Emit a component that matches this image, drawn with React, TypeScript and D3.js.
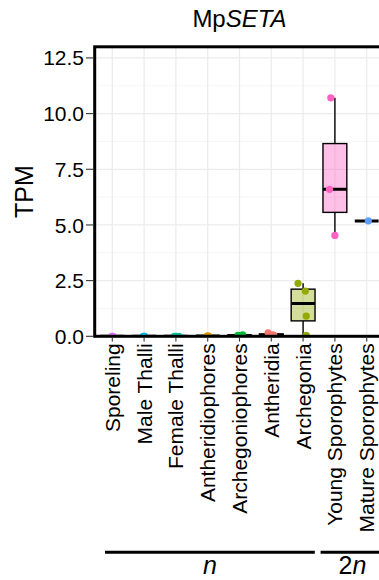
import React from 'react';
import * as d3 from 'd3';

// stages, in plot order
const categories = [
  'Sporeling',
  'Male Thalli',
  'Female Thalli',
  'Antheridiophores',
  'Archegoniophores',
  'Antheridia',
  'Archegonia',
  'Young Sporophytes',
  'Mature Sporophytes',
];
const stageColors = ['#DB72FB', '#00B9E3', '#00C19F', '#D39200', '#00BA38', '#F8766D', '#93AA00', '#FF61C3', '#619CFF'];

// replicate TPM values
const tpm = [
  [0, 0, 0],
  [0, 0, 0],
  [0, 0, 0],
  [0.01, 0.01, 0.01],
  [0.06, 0.04, 0.03],
  [0.15, 0.06, 0.04],
  [2.38, 2.03, 0.91, 0.04],
  [10.71, 6.6, 4.53],
  [5.18],
];
// horizontal jitter of each replicate (in category steps)
const jitter = [
  [0, 0.02, -0.02],
  [-0.03, 0.02, 0],
  [-0.05, 0.1, 0.02],
  [0.03, 0, -0.02],
  [0.1, -0.05, 0],
  [-0.1, 0.05, 0.08],
  [-0.16, 0.07, 0.1, 0.1],
  [-0.13, -0.17, 0],
  [0.05],
];
const yTicks = [0, 2.5, 5, 7.5, 10, 12.5];
const ploidyLabels = ['n', '2n'];
const ploidyFrom = ['Sporeling', 'Young Sporophytes'];
const ploidyTo = ['Archegonia', 'Mature Sporophytes'];

const W = 379;
const H = 580;
const font = '"Liberation Sans", Arial, Helvetica, sans-serif';

export default function App() {
  const panel = { left: 94.7, top: 46.8, right: 384.3, bottom: 336.3 };

  const x = d3.scalePoint<string>().domain(categories).range([112.3, 366.7]);
  const step = x.step();
  const y = d3.scaleLinear().domain([0, 13]).range([panel.bottom, panel.top]);
  const minor = d3.range(1.25, 13, 2.5);
  const boxW = step * 0.75;

  const stats = tpm.map((vals) => {
    const s = vals.slice().sort(d3.ascending);
    const q1 = d3.quantile(s, 0.25) as number;
    const med = d3.quantile(s, 0.5) as number;
    const q3 = d3.quantile(s, 0.75) as number;
    const iqr = q3 - q1;
    const lo = d3.min(s.filter((v) => v >= q1 - 1.5 * iqr)) as number;
    const hi = d3.max(s.filter((v) => v <= q3 + 1.5 * iqr)) as number;
    return { q1, med, q3, lo, hi };
  });

  // extents of the ploidy bars under the labels
  const groupStart = [x(ploidyFrom[0])! - 7.3, x(ploidyFrom[1])! - 14.3];
  const groupEnd = [x(ploidyTo[0])! + 11.7, panel.right];

  return (
    <svg width={W} height={H} style={{ position: 'absolute', left: 0, top: 0, background: '#fff' }} fontFamily={font}>
      <defs>
        <clipPath id="panel-clip">
          <rect x={panel.left} y={panel.top} width={panel.right - panel.left} height={panel.bottom - panel.top} />
        </clipPath>
      </defs>

      <text x={(panel.left + panel.right) / 2} y={27} textAnchor="middle" fontSize={24} fill="#000">
        Mp<tspan fontStyle="italic">SETA</tspan>
      </text>

      <g clipPath="url(#panel-clip)">
        <rect x={panel.left} y={panel.top} width={panel.right - panel.left} height={panel.bottom - panel.top} fill="#fff" />
        {minor.map((t) => (
          <line key={'mi' + t} x1={panel.left} x2={panel.right} y1={y(t)} y2={y(t)} stroke="#efefef" strokeWidth={0.6} />
        ))}
        {yTicks.map((t) => (
          <line key={'ma' + t} x1={panel.left} x2={panel.right} y1={y(t)} y2={y(t)} stroke="#ebebeb" strokeWidth={1.2} />
        ))}
        {categories.map((c) => (
          <line key={'gx' + c} x1={x(c)} x2={x(c)} y1={panel.top} y2={panel.bottom} stroke="#ebebeb" strokeWidth={1.2} />
        ))}

        {stats.map((s, i) => {
          const cx = x(categories[i])!;
          const fill = d3.color(stageColors[i])!.copy({ opacity: 0.4 }).formatRgb();
          return (
            <g key={'box' + i}>
              <line x1={cx} x2={cx} y1={y(s.q3)} y2={y(s.hi)} stroke="#000" strokeWidth={1.4} />
              <line x1={cx} x2={cx} y1={y(s.q1)} y2={y(s.lo)} stroke="#000" strokeWidth={1.4} />
              <rect
                x={cx - boxW / 2}
                y={y(s.q3)}
                width={boxW}
                height={Math.max(0, y(s.q1) - y(s.q3))}
                fill={fill}
                stroke="#000"
                strokeWidth={1.4}
              />
              <line x1={cx - boxW / 2} x2={cx + boxW / 2} y1={y(s.med)} y2={y(s.med)} stroke="#000" strokeWidth={3} />
            </g>
          );
        })}

        {tpm.map((vals, i) =>
          vals.map((v, j) => (
            <circle
              key={'pt' + i + '-' + j}
              cx={x(categories[i])! + jitter[i][j] * step}
              cy={y(v)}
              r={3.6}
              fill={stageColors[i]}
            />
          ))
        )}
      </g>

      <rect
        x={panel.left}
        y={panel.top}
        width={panel.right - panel.left}
        height={panel.bottom - panel.top}
        fill="none"
        stroke="#000"
        strokeWidth={3}
      />

      {yTicks.map((t) => (
        <g key={'yt' + t}>
          <line x1={86} x2={panel.left - 1.5} y1={y(t)} y2={y(t)} stroke="#333" strokeWidth={1.1} />
          <text x={84} y={y(t)} dy="0.36em" textAnchor="end" fontSize={21} fill="#000">
            {t.toFixed(1)}
          </text>
        </g>
      ))}

      {categories.map((c) => (
        <g key={'xt' + c}>
          <line x1={x(c)} x2={x(c)} y1={panel.bottom + 1.5} y2={panel.bottom + 5.2} stroke="#333" strokeWidth={1.1} />
          <text
            transform={`translate(${x(c)},${panel.bottom + 7}) rotate(-90)`}
            dy="0.36em"
            textAnchor="end"
            fontSize={21}
            fill="#000"
          >
            {c}
          </text>
        </g>
      ))}

      <text transform={`translate(33,${(panel.top + panel.bottom) / 2}) rotate(-90)`} textAnchor="middle" fontSize={25} fill="#000">
        TPM
      </text>

      {ploidyLabels.map((lab, i) => {
        const mid = (groupStart[i] + groupEnd[i]) / 2;
        return (
          <g key={'pl' + lab}>
            <line x1={groupStart[i]} x2={groupEnd[i]} y1={552.3} y2={552.3} stroke="#000" strokeWidth={3} />
            <text x={mid} y={574} textAnchor="middle" fontSize={25} fill="#000">
              {lab === '2n' ? (
                <>
                  2<tspan fontStyle="italic">n</tspan>
                </>
              ) : (
                <tspan fontStyle="italic">n</tspan>
              )}
            </text>
          </g>
        );
      })}
    </svg>
  );
}
